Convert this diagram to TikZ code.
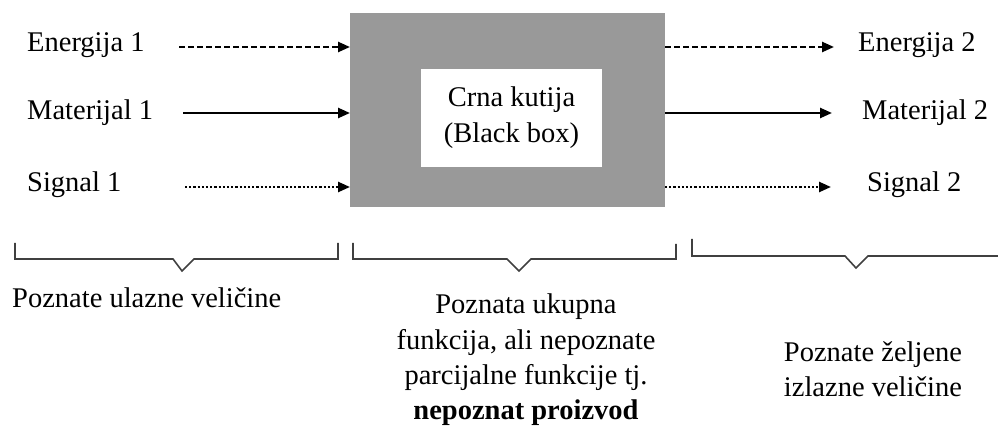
\documentclass[tikz,border=0pt]{standalone}
\usepackage{fontspec}
\setmainfont{Liberation Serif}
\usetikzlibrary{arrows.meta}
\begin{document}
\begin{tikzpicture}[x=1pt,y=-1pt,
  lbl/.style={inner sep=0pt, font=\fontsize{28.5}{35}\selectfont},
  flow/.style={line width=2.4pt, -{Triangle[length=12pt,width=10pt]}},
  dashflow/.style={flow, dash pattern=on 6pt off 3pt},
  dotflow/.style={flow, dash pattern=on 2.2pt off 2pt},
  brace/.style={draw=black!75, line width=1.6pt},
]
\useasboundingbox (0,0) rectangle (998,427);
% black box
\node[fill=black!40, minimum width=315pt, minimum height=194pt, inner sep=0pt] (box) at (507.5,110) {};
\node[fill=white, minimum width=181pt, minimum height=98pt, inner sep=0pt, align=center,
      font=\fontsize{28.5}{36}\selectfont] (inner) at (511.5,118) {Crna kutija\\(Black box)};
% left labels
\node[lbl, anchor=west] (e1) at (27,45) {Energija 1};
\node[lbl, anchor=west] (m1) at (27,113) {Materijal 1};
\node[lbl, anchor=west] (s1) at (27,185) {Signal 1};
% right labels
\node[lbl, anchor=west] (e2) at (858,45) {Energija 2};
\node[lbl, anchor=west] (m2) at (862,113) {Materijal 2};
\node[lbl, anchor=west] (s2) at (867,185) {Signal 2};
% connector coordinates
\coordinate (e1s) at (179,47); \coordinate (e1t) at (350,47);
\coordinate (m1s) at (183,113); \coordinate (m1t) at (350,113);
\coordinate (s1s) at (185,187); \coordinate (s1t) at (350,187);
\coordinate (e2s) at (665,47); \coordinate (e2t) at (834,47);
\coordinate (m2s) at (665,113); \coordinate (m2t) at (832,113);
\coordinate (s2s) at (665,187); \coordinate (s2t) at (831,187);
\draw[dashflow] (e1s) -- (e1t);
\draw[flow] (m1s) -- (m1t);
\draw[dotflow] (s1s) -- (s1t);
\draw[dashflow] (e2s) -- (e2t);
\draw[flow] (m2s) -- (m2t);
\draw[dotflow] (s2s) -- (s2t);
% braces
\draw[brace] (15,243) -- (15,259) -- (173,259) -- (182,271) -- (194,259) -- (338,259) -- (338,243);
\draw[brace] (353,243) -- (353,259) -- (507,259) -- (519,271) -- (531,259) -- (676,259) -- (676,244);
\draw[brace] (692,239) -- (692,256) -- (845,256) -- (856,268) -- (868,256) -- (1000,256);
% bottom texts
\node[lbl, anchor=west] (t1) at (12,298) {Poznate ulazne veličine};
\node[lbl, align=center, font=\fontsize{28.5}{35.3}\selectfont] (t2) at (526,360)
  {Poznata ukupna\\funkcija, ali nepoznate\\parcijalne funkcije tj.\\\textbf{nepoznat proizvod}};
\node[lbl, align=left, font=\fontsize{28.5}{35}\selectfont] (t3) at (873,369)
  {Poznate željene\\izlazne veličine};
\end{tikzpicture}
\end{document}
